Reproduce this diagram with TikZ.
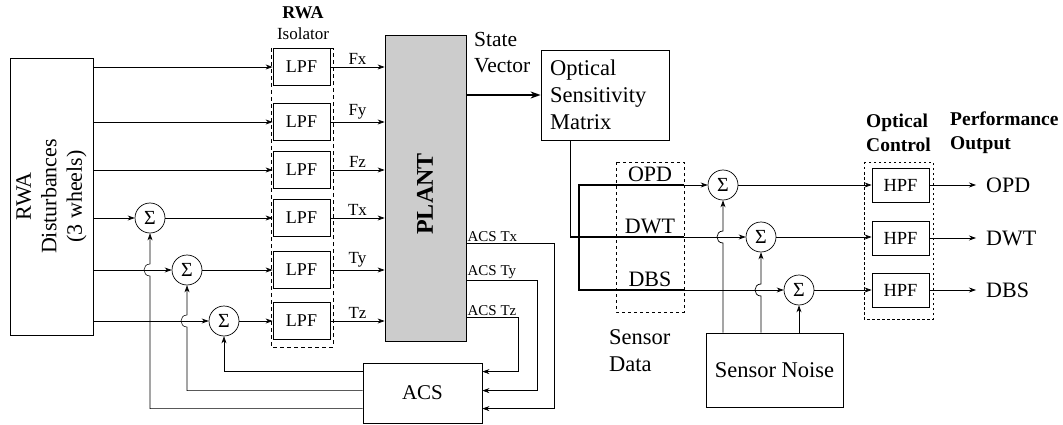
\documentclass[tikz,border=0pt]{standalone}
\usepackage{fontspec}
\setmainfont{Liberation Serif}
\usetikzlibrary{arrows.meta,calc}
\newcommand{\myfs}[1]{\fontsize{#1}{#1}\selectfont}
\begin{document}
\begin{tikzpicture}[x=1pt,y=-1pt,
  lpfbox/.style={draw,line width=0.8pt,minimum width=57pt,minimum height=37pt,inner sep=0pt,font=\myfs{18}},
  hpfbox/.style={draw,line width=0.8pt,minimum width=57pt,minimum height=34pt,inner sep=0pt,font=\myfs{18.5}},
  sumnode/.style={draw,circle,line width=0.7pt,minimum size=30pt,inner sep=0pt,font=\myfs{20}},
  plainbox/.style={draw,line width=0.8pt,inner sep=0pt},
  sig/.style={line width=0.7pt,-{Stealth[length=7pt,width=5pt]}},
  fb/.style={line width=0.55pt},
  fbarr/.style={fb,-{Stealth[length=7pt,width=5pt]}},
  bus/.style={line width=1.3pt},
  thickarr/.style={line width=1.5pt,-{Stealth[length=10pt,width=7pt]}},
  rowlbl/.style={font=\myfs{17},inner sep=2pt},
  acslbl/.style={font=\myfs{15},inner sep=1pt,anchor=south west},
  sdlbl/.style={font=\myfs{22},inner sep=1pt,anchor=south},
  outlbl/.style={font=\myfs{22},anchor=west,inner xsep=10pt,inner ysep=2pt},
  isobox/.style={draw,line width=0.7pt,dash pattern=on 4pt off 3pt},
  dotbox/.style={draw,line width=0.7pt,dash pattern=on 3pt off 3pt},
]
\useasboundingbox (0,0) rectangle (1063,425);

% RWA disturbances
\node[plainbox,minimum width=83pt,minimum height=277pt] (rwa) at (51.5,196.5) {};
\node[rotate=90,align=center,font=\fontsize{22}{25.5}\selectfont] (rwatxt) at (rwa.center) {RWA\\Disturbances\\(3 wheels)};

% isolator
\draw[isobox] (271,48) rectangle (333,347);
\node[font=\bfseries\myfs{18}] (rwahead) at (303,13) {RWA};
\node[font=\myfs{17}] (isohead) at (303,34) {Isolator};

\node[lpfbox] (l1) at (301.5,67) {LPF};
\node[lpfbox] (l2) at (301.5,122) {LPF};
\node[lpfbox] (l3) at (301.5,170) {LPF};
\node[lpfbox] (l4) at (301.5,218) {LPF};
\node[lpfbox] (l5) at (301.5,270) {LPF};
\node[lpfbox] (l6) at (301.5,321) {LPF};

\node[sumnode] (s1) at (150,218) {Σ};
\node[sumnode] (s2) at (187,270) {Σ};
\node[sumnode] (s3) at (224,321) {Σ};

% plant
\node[draw,line width=0.8pt,fill=gray!40,minimum width=81pt,minimum height=306pt,inner sep=0pt] (plant) at (425.5,188) {};
\node[rotate=90,font=\bfseries\myfs{24}] (planttxt) at (425,194) {PLANT};

% ACS
\node[plainbox,minimum width=119pt,minimum height=60pt,font=\myfs{21}] (acs) at (422.5,393) {ACS};

% RWA -> LPF / sums
\draw[sig] (rwa.east |- l1) -- (l1.west);
\draw[sig] (rwa.east |- l2) -- (l2.west);
\draw[sig] (rwa.east |- l3) -- (l3.west);
\draw[sig] (rwa.east |- s1) -- (s1.west);
\draw[sig] (rwa.east |- s2) -- (s2.west);
\draw[sig] (rwa.east |- s3) -- (s3.west);
\draw[sig] (s1.east) -- (l4.west);
\draw[sig] (s2.east) -- (l5.west);
\draw[sig] (s3.east) -- (l6.west);

% LPF -> plant
\draw[sig] (l1.east) -- (l1.east -| plant.west) node[midway,above,rowlbl] {Fx};
\draw[sig] (l2.east) -- (l2.east -| plant.west) node[midway,above,rowlbl] {Fy};
\draw[sig] (l3.east) -- (l3.east -| plant.west) node[midway,above,rowlbl] {Fz};
\draw[sig] (l4.east) -- (l4.east -| plant.west) node[midway,above,rowlbl] {Tx};
\draw[sig] (l5.east) -- (l5.east -| plant.west) node[midway,above,rowlbl] {Ty};
\draw[sig] (l6.east) -- (l6.east -| plant.west) node[midway,above,rowlbl] {Tz};

% plant -> ACS
\coordinate (ptx) at ($(plant.east)+(0,55)$);
\coordinate (pty) at ($(plant.east)+(0,92)$);
\coordinate (ptz) at ($(plant.east)+(0,129)$);
\coordinate (fb3) at ($(acs.north west)+(0,9)$);
\coordinate (fb2) at ($(acs.north west)+(0,28)$);
\coordinate (fb1) at ($(acs.north west)+(0,46)$);
\node[acslbl] (acstx) at (ptx) {ACS Tx};
\node[acslbl] (acsty) at (pty) {ACS Ty};
\node[acslbl] (acstz) at (ptz) {ACS Tz};
\draw[fbarr] (ptx) -- ++(88,0) |- (acs.east |- fb1);
\draw[fbarr] (pty) -- ++(71,0) |- (acs.east |- fb2);
\draw[fbarr] (ptz) -- ++(52,0) |- (acs.east |- fb3);

% ACS -> sums
\draw[fbarr] (fb3) -| (s3.south);
\draw[fbarr] (fb2) -- (fb2 -| s2.south) -- ($(s2.south |- s3)+(0,6)$) .. controls +(-8,0) and +(-8,0) .. ($(s2.south |- s3)+(0,-6)$) -- (s2.south);
\draw[fbarr] (fb1) -- (fb1 -| s1.south) -- ($(s1.south |- s2)+(0,6)$) .. controls +(-8,0) and +(-8,0) .. ($(s1.south |- s2)+(0,-6)$) -- (s1.south);

% optical sensitivity matrix
\node[plainbox,minimum width=128pt,minimum height=90pt] (osm) at (605,95) {};
\node[anchor=west,align=left,font=\fontsize{22.5}{27}\selectfont,inner sep=0pt] (osmtxt) at (550,95) {Optical\\Sensitivity\\Matrix};
\node[anchor=west,align=left,font=\fontsize{21.5}{26}\selectfont,inner sep=0pt] (svtxt) at (474,53) {State\\Vector};
\draw[thickarr] (plant.east |- osm.west) -- (osm.west);

% sensor data
\draw[dotbox] (616,162) rectangle (684,312);
\coordinate (sd1) at (684,185);
\coordinate (sd2) at (684,237);
\coordinate (sd3) at (684,290);
\coordinate (osmout) at ($(osm.south west)+(30,0)$);
\coordinate (bustop) at (579,185);
\draw[bus] (osmout) |- (sd2);
\draw[bus] (sd1) -- (bustop) -- (bustop |- sd3) -- (sd3);
\node[sdlbl] (opdlbl) at (650,183) {OPD};
\node[sdlbl] (dwtlbl) at (650,235) {DWT};
\node[sdlbl] (dbslbl) at (650,288) {DBS};
\node[anchor=west,align=left,font=\fontsize{22.5}{27}\selectfont,inner sep=0pt] (sdtxt) at (609,351) {Sensor\\Data};

% sensor noise sums
\node[sumnode] (s4) at (723,185) {Σ};
\node[sumnode] (s5) at (761,237) {Σ};
\node[sumnode] (s6) at (799,290) {Σ};
\draw[sig] (sd1) -- (s4.west);
\draw[sig] (sd2) -- (s5.west);
\draw[sig] (sd3) -- (s6.west);

\node[plainbox,minimum width=137pt,minimum height=74pt,font=\myfs{22.5}] (noise) at (774.5,370) {Sensor Noise};
\draw[sig] (noise.north -| s4) -- ($(s4 |- s5)+(0,6)$) .. controls +(-8,0) and +(-8,0) .. ($(s4 |- s5)+(0,-6)$) -- (s4.south);
\draw[sig] (noise.north -| s5) -- ($(s5 |- s6)+(0,6)$) .. controls +(-8,0) and +(-8,0) .. ($(s5 |- s6)+(0,-6)$) -- (s5.south);
\draw[sig] (noise.north -| s6) -- (s6.south);

% optical control
\draw[dotbox,dash pattern=on 2.5pt off 2.5pt] (864,162) rectangle (933,319);
\node[anchor=west,align=left,font=\bfseries\fontsize{19.5}{24}\selectfont,inner sep=0pt] (octxt) at (866,133) {Optical\\Control};
\node[anchor=west,align=left,font=\bfseries\fontsize{19.5}{24}\selectfont,inner sep=0pt] (potxt) at (950,133) {Performance\\Output};
\node[hpfbox] (h1) at (900.5,185) {HPF};
\node[hpfbox] (h2) at (900.5,238) {HPF};
\node[hpfbox] (h3) at (900.5,290) {HPF};
\draw[sig] (s4.east) -- (h1.west);
\draw[sig] (s5.east) -- (h2.west |- s5);
\draw[sig] (s6.east) -- (h3.west);

\node[outlbl] (o1) at (976,185) {OPD};
\node[outlbl] (o2) at (976,238) {DWT};
\node[outlbl] (o3) at (976,290) {DBS};
\draw[sig] (h1.east) -- (o1.west);
\draw[sig] (h2.east) -- (o2.west);
\draw[sig] (h3.east) -- (o3.west);
\end{tikzpicture}
\end{document}
